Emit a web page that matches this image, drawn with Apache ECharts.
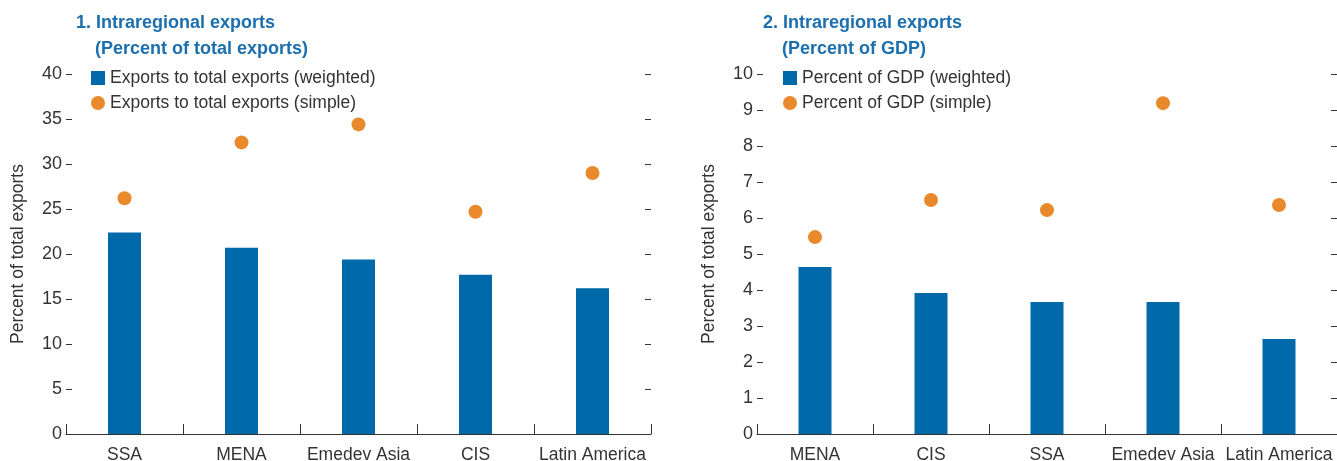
<!DOCTYPE html>
<html>
<head>
<meta charset="utf-8">
<script src="https://cdn.jsdelivr.net/npm/echarts@6/dist/echarts.min.js"></script>
<style>
html, body { margin: 0; padding: 0; background: #fff; }
#chart { width: 1337px; height: 461px; }
</style>
</head>
<body>
<div id="chart"></div>
<script>
// panel 1: percent of total exports
const cats1 = ['SSA', 'MENA', 'Emedev Asia', 'CIS', 'Latin America']
const weighted1 = [22.4, 20.7, 19.4, 17.7, 16.2]
const simple1 = [26.2, 32.4, 34.4, 24.7, 29.0]
// panel 2: percent of GDP
const cats2 = ['MENA', 'CIS', 'SSA', 'Emedev Asia', 'Latin America']
const weighted2 = [4.64, 3.92, 3.67, 3.67, 2.64]
const simple2 = [5.47, 6.5, 6.22, 9.19, 6.36]

const font = '"Liberation Sans Narrow", "Arial Narrow", "Liberation Sans", sans-serif'
const blue = '#0069aa'
const orange = '#e8892b'
const titleBlue = '#1b6fae'
const ink = '#333'

function yAxisLeft(grid, max, interval) {
    return {
        gridIndex: grid, type: 'value', min: 0, max: max, interval: interval,
        name: 'Percent of total exports', nameLocation: 'middle', nameGap: 39,
        nameTextStyle: { fontFamily: font, fontSize: 17.5, color: ink },
        axisLine: { show: false },
        axisTick: { show: true, inside: true, length: 6, lineStyle: { color: ink } },
        axisLabel: { fontFamily: font, fontSize: 18, color: ink, margin: 4 },
        splitLine: { show: false }
    }
}
function yAxisRight(grid, max, interval) {
    return {
        gridIndex: grid, type: 'value', position: 'right', min: 0, max: max, interval: interval,
        axisLine: { show: false },
        axisTick: { show: true, inside: true, length: 6, lineStyle: { color: ink } },
        axisLabel: { show: false },
        splitLine: { show: false }
    }
}
function xAxis(grid, data) {
    return {
        gridIndex: grid, type: 'category', data: data,
        axisLine: { show: true, lineStyle: { color: ink, width: 1.2 } },
        axisTick: { show: true, inside: true, length: 10, interval: 0, lineStyle: { color: ink } },
        axisLabel: { fontFamily: font, fontSize: 17.5, color: ink, margin: 12, interval: 0 }
    }
}

let option = {
    animation: false,
    title: [
        { text: '1. Intraregional exports', left: 71, top: 9,
          textStyle: { fontFamily: font, fontSize: 18, fontWeight: 'bold', color: titleBlue } },
        { text: '(Percent of total exports)', left: 90, top: 35,
          textStyle: { fontFamily: font, fontSize: 18, fontWeight: 'bold', color: titleBlue } },
        { text: '2. Intraregional exports', left: 758, top: 9,
          textStyle: { fontFamily: font, fontSize: 18, fontWeight: 'bold', color: titleBlue } },
        { text: '(Percent of GDP)', left: 777, top: 35,
          textStyle: { fontFamily: font, fontSize: 18, fontWeight: 'bold', color: titleBlue } }
    ],
    legend: [
        { left: 86, top: 64, orient: 'vertical', itemWidth: 14, itemHeight: 14, itemGap: 7,
          textStyle: { fontFamily: font, fontSize: 17.5, color: ink },
          data: [{ name: 'Exports to total exports (weighted)', icon: 'rect' },
                 { name: 'Exports to total exports (simple)', icon: 'circle' }] },
        { left: 778, top: 64, orient: 'vertical', itemWidth: 14, itemHeight: 14, itemGap: 7,
          textStyle: { fontFamily: font, fontSize: 17.5, color: ink },
          data: [{ name: 'Percent of GDP (weighted)', icon: 'rect' },
                 { name: 'Percent of GDP (simple)', icon: 'circle' }] }
    ],
    grid: [
        { left: 66, width: 585, top: 74, bottom: 27, containLabel: false, outerBoundsMode: 'none' },
        { left: 757, right: 0, top: 74, bottom: 27, containLabel: false, outerBoundsMode: 'none' }
    ],
    xAxis: [xAxis(0, cats1), xAxis(1, cats2)],
    yAxis: [yAxisLeft(0, 40, 5), yAxisRight(0, 40, 5), yAxisLeft(1, 10, 1), yAxisRight(1, 10, 1)],
    series: [
        { name: 'Exports to total exports (weighted)', type: 'bar', xAxisIndex: 0, yAxisIndex: 0,
          data: weighted1, barWidth: 33, itemStyle: { color: blue } },
        { name: 'Exports to total exports (simple)', type: 'scatter', xAxisIndex: 0, yAxisIndex: 0,
          data: simple1, symbolSize: 14, itemStyle: { color: orange, opacity: 1 } },
        { name: 'Percent of GDP (weighted)', type: 'bar', xAxisIndex: 1, yAxisIndex: 2,
          data: weighted2, barWidth: 33, itemStyle: { color: blue } },
        { name: 'Percent of GDP (simple)', type: 'scatter', xAxisIndex: 1, yAxisIndex: 2,
          data: simple2, symbolSize: 14, itemStyle: { color: orange, opacity: 1 } }
    ]
}

let myChart = echarts.init(document.getElementById('chart'))
myChart.setOption(option)
</script>
</body>
</html>
